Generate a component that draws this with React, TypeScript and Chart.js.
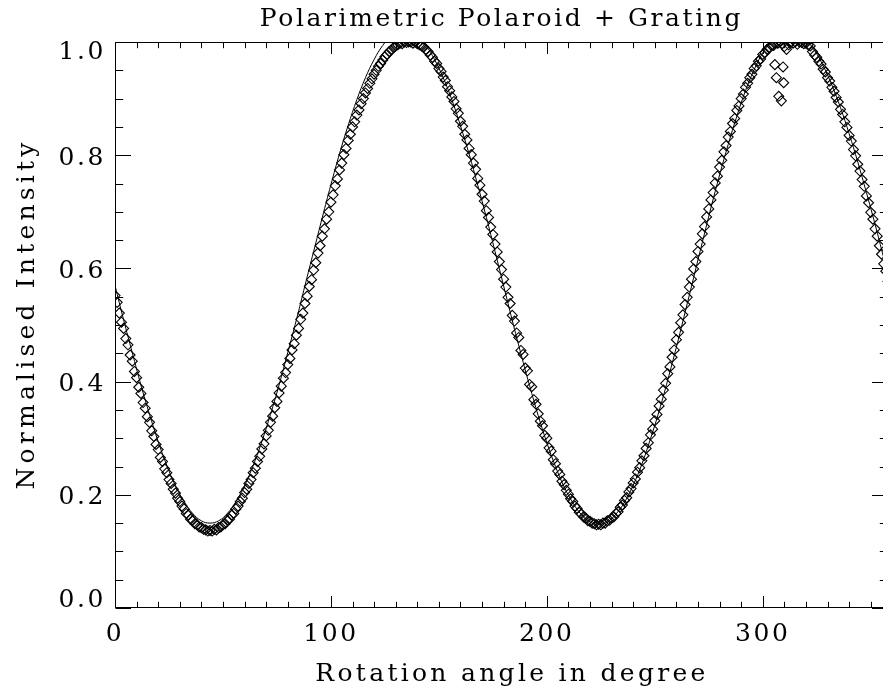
import React, { useEffect, useRef } from 'react';
import { Chart, registerables } from 'chart.js';
Chart.register(...registerables);

const FONT_FAMILY = '"DejaVu Serif", serif';
const TITLE = 'Polarimetric Polaroid + Grating';
const X_TITLE = 'Rotation angle in degree';
const Y_TITLE = 'Normalised Intensity';

// measured intensity, one sample per degree starting at 0 deg
const ANGLE_START = 0;
const ANGLE_STEP = 1;
const intensity = [
  0.552, 0.540, 0.521, 0.505, 0.494, 0.476, 0.465, 0.447, 0.436, 0.418, // 0
  0.407, 0.390, 0.379, 0.363, 0.353, 0.338, 0.328, 0.313, 0.303, 0.289, // 10
  0.280, 0.266, 0.259, 0.246, 0.239, 0.227, 0.220, 0.210, 0.203, 0.194, // 20
  0.188, 0.180, 0.175, 0.167, 0.164, 0.157, 0.155, 0.149, 0.147, 0.143, // 30
  0.142, 0.139, 0.138, 0.136, 0.137, 0.136, 0.139, 0.138, 0.142, 0.143, // 40
  0.147, 0.149, 0.155, 0.157, 0.164, 0.167, 0.175, 0.180, 0.188, 0.194, // 50
  0.204, 0.210, 0.220, 0.227, 0.239, 0.247, 0.259, 0.268, 0.281, 0.290, // 60
  0.304, 0.314, 0.328, 0.339, 0.354, 0.365, 0.380, 0.392, 0.406, 0.416, // 70
  0.430, 0.441, 0.456, 0.467, 0.482, 0.494, 0.510, 0.521, 0.538, 0.551, // 80
  0.568, 0.580, 0.597, 0.610, 0.627, 0.640, 0.657, 0.670, 0.687, 0.700, // 90
  0.717, 0.730, 0.746, 0.758, 0.774, 0.786, 0.801, 0.812, 0.826, 0.837, // 100
  0.850, 0.859, 0.871, 0.880, 0.891, 0.900, 0.910, 0.918, 0.927, 0.935, // 110
  0.943, 0.950, 0.957, 0.962, 0.968, 0.974, 0.978, 0.983, 0.986, 0.990, // 120
  0.993, 0.995, 0.998, 0.997, 1.000, 0.999, 1.000, 1.000, 0.998, 1.000, // 130
  0.997, 0.995, 0.993, 0.991, 0.986, 0.983, 0.977, 0.973, 0.966, 0.962, // 140
  0.953, 0.948, 0.938, 0.932, 0.921, 0.914, 0.903, 0.895, 0.882, 0.874, // 150
  0.860, 0.851, 0.837, 0.827, 0.812, 0.801, 0.786, 0.775, 0.759, 0.747, // 160
  0.731, 0.719, 0.702, 0.690, 0.673, 0.660, 0.643, 0.629, 0.612, 0.598, // 170
  0.581, 0.567, 0.549, 0.538, 0.517, 0.507, 0.486, 0.478, 0.455, 0.448, // 180
  0.424, 0.419, 0.395, 0.391, 0.368, 0.360, 0.343, 0.330, 0.322, 0.305, // 190
  0.300, 0.283, 0.277, 0.262, 0.255, 0.242, 0.236, 0.224, 0.218, 0.208, // 200
  0.201, 0.193, 0.188, 0.180, 0.176, 0.169, 0.166, 0.161, 0.159, 0.154, // 210
  0.153, 0.150, 0.149, 0.147, 0.148, 0.147, 0.150, 0.150, 0.154, 0.155, // 220
  0.159, 0.161, 0.167, 0.170, 0.178, 0.182, 0.190, 0.195, 0.205, 0.211, // 230
  0.221, 0.228, 0.240, 0.248, 0.260, 0.269, 0.282, 0.292, 0.306, 0.316, // 240
  0.331, 0.342, 0.357, 0.369, 0.385, 0.397, 0.414, 0.426, 0.443, 0.456, // 250
  0.474, 0.487, 0.504, 0.518, 0.536, 0.549, 0.567, 0.581, 0.599, 0.612, // 260
  0.630, 0.643, 0.661, 0.674, 0.691, 0.705, 0.721, 0.734, 0.751, 0.763, // 270
  0.779, 0.791, 0.806, 0.817, 0.832, 0.842, 0.856, 0.865, 0.879, 0.887, // 280
  0.900, 0.908, 0.920, 0.927, 0.937, 0.943, 0.953, 0.958, 0.966, 0.970, // 290
  0.978, 0.981, 0.987, 0.989, 0.994, 0.994, 0.998, 0.998, 1.000, 0.997, // 300
  0.992, 0.987, 0.995, 1.000, 0.998, 1.000, 0.996, 1.000, 0.999, 0.997, // 310
  0.998, 0.995, 0.993, 0.983, 0.977, 0.973, 0.966, 0.961, 0.952, 0.947, // 320
  0.937, 0.931, 0.920, 0.913, 0.902, 0.894, 0.881, 0.872, 0.859, 0.849, // 330
  0.835, 0.825, 0.810, 0.799, 0.784, 0.772, 0.757, 0.745, 0.728, 0.716, // 340
  0.699, 0.687, 0.670, 0.657, 0.640, 0.625, 0.608, 0.595, 0.577,        // 350
];

// stray low readings near the second maximum
const outlierAngle = [305.6, 306.3, 307.4, 308.6, 309.4, 309.7];
const outlierIntensity = [0.960, 0.937, 0.904, 0.896, 0.956, 0.928];

// fitted curve
const fitAngle = [
  0, 4, 8, 12, 16, 20, 24, 28, 32, 36, 40, 44, 48, 52, 56, 60, 64, 68, 72, 76,
  80, 84, 88, 92, 96, 100, 104, 108, 112, 116, 120, 124, 128, 132, 136, 140, 144, 148, 152, 156,
  160, 164, 168, 172, 176, 180, 184, 188, 192, 196, 200, 204, 208, 212, 216, 220, 224, 228, 232, 236,
  240, 244, 248, 252, 256, 260, 264, 268, 272, 276, 280, 284, 288, 292, 296, 300, 304, 308, 312, 316,
  320, 324, 328, 332, 336, 340, 344, 348, 352, 356, 358,
];
const fitIntensity = [
  0.570, 0.509, 0.451, 0.394, 0.342, 0.294, 0.252, 0.216, 0.188, 0.167, 0.154, 0.150, 0.154, 0.167, 0.188, 0.216, 0.252, 0.294, 0.342, 0.394,
  0.451, 0.509, 0.570, 0.630, 0.690, 0.748, 0.803, 0.853, 0.898, 0.937, 0.969, 0.994, 1.011, 1.019, 1.019, 1.010, 0.994, 0.969, 0.937, 0.898,
  0.852, 0.802, 0.747, 0.690, 0.630, 0.569, 0.508, 0.449, 0.393, 0.340, 0.292, 0.250, 0.214, 0.186, 0.165, 0.152, 0.148, 0.152, 0.166, 0.187,
  0.217, 0.254, 0.299, 0.348, 0.403, 0.461, 0.522, 0.584, 0.646, 0.707, 0.765, 0.819, 0.869, 0.914, 0.951, 0.981, 1.002, 1.016, 1.020, 1.016,
  1.004, 0.985, 0.958, 0.924, 0.884, 0.838, 0.788, 0.734, 0.678, 0.619, 0.590,
];

const X_MIN = 0;
const X_MAX = 358;
const Y_MIN = 0;
const Y_MAX = 1.0;
const X_MAJOR = [0, 100, 200, 300];
const X_MINOR = [10, 20, 30, 40, 50, 60, 70, 80, 90, 110, 120, 130, 140, 150, 160, 170, 180, 190,
  210, 220, 230, 240, 250, 260, 270, 280, 290, 310, 320, 330, 340, 350];
const Y_MAJOR = [0, 0.2, 0.4, 0.6, 0.8, 1.0];
const Y_MINOR = [0.05, 0.1, 0.15, 0.25, 0.3, 0.35, 0.45, 0.5, 0.55, 0.65, 0.7, 0.75, 0.85, 0.9, 0.95];

const CANVAS_W = 1003;
const CANVAS_H = 692;
const FONT_SIZE = 25;
const LETTER_SPACING = '2.6px';
const FONT_CSS = `normal ${FONT_SIZE}px ${FONT_FAMILY}`;

const font = { family: FONT_FAMILY, size: FONT_SIZE, weight: 'normal' as const, lineHeight: 1.2 };

const idlAxes = {
  id: 'idlAxes',
  beforeDraw(chart: any) {
    chart.ctx.letterSpacing = LETTER_SPACING;
  },
  afterDraw(chart: any) {
    const { ctx, chartArea: a, scales } = chart;
    const xs = scales.x;
    const ys = scales.y;
    const L = Math.round(a.left) + 0.5;
    const R = Math.round(a.right) - 0.5;
    const T = Math.round(a.top) + 0.5;
    const B = Math.round(a.bottom) - 0.5;
    ctx.save();
    ctx.strokeStyle = '#000';
    ctx.lineWidth = 1;
    ctx.beginPath();
    ctx.rect(L, T, R - L, B - T);
    const xt = (vals: number[], len: number) => {
      for (const v of vals) {
        const px = Math.round(xs.getPixelForValue(v)) + 0.5;
        ctx.moveTo(px, B); ctx.lineTo(px, B - len);
        ctx.moveTo(px, T); ctx.lineTo(px, T + len);
      }
    };
    const yt = (vals: number[], len: number) => {
      for (const v of vals) {
        const py = Math.round(ys.getPixelForValue(v)) + 0.5;
        ctx.moveTo(L, py); ctx.lineTo(L + len, py);
        ctx.moveTo(R, py); ctx.lineTo(R - len, py);
      }
    };
    xt(X_MAJOR, 11.5);
    xt(X_MINOR, 5.7);
    yt(Y_MAJOR, 15.5);
    yt(Y_MINOR, 7.7);
    ctx.stroke();

    ctx.fillStyle = '#000';
    ctx.font = FONT_CSS;

    // y tick labels (end labels kept inside the axis span)
    ctx.letterSpacing = LETTER_SPACING;
    ctx.textAlign = 'right';
    ctx.textBaseline = 'middle';
    for (const v of Y_MAJOR) {
      let py = ys.getPixelForValue(v) + 3;
      if (v === Y_MAX) py += 7;
      if (v === Y_MIN) py -= 11;
      ctx.fillText(v.toFixed(1), a.left - 9, py);
    }

    // x axis title
    ctx.letterSpacing = '3.3px';
    ctx.textAlign = 'center';
    ctx.textBaseline = 'middle';
    ctx.fillText(X_TITLE, 512, 674);

    // y axis title, rotated
    ctx.translate(27, 314);
    ctx.rotate(-Math.PI / 2);
    ctx.letterSpacing = '4.2px';
    ctx.fillText(Y_TITLE, 0, 0);
    ctx.restore();
  },
};

export default function App() {
  const ref = useRef<HTMLCanvasElement>(null);
  useEffect(() => {
    const measured = intensity.map((v, i) => ({ x: ANGLE_START + i * ANGLE_STEP, y: v }));
    const outliers = outlierAngle.map((a, i) => ({ x: a, y: outlierIntensity[i] }));
    const fit = fitAngle.map((a, i) => ({ x: a, y: fitIntensity[i] }));
    const pointStyle = {
      pointStyle: 'rectRot' as const,
      pointRadius: 5,
      pointBorderWidth: 1.1,
      borderColor: '#000',
      pointBorderColor: '#000',
      backgroundColor: 'rgba(0,0,0,0)',
      pointBackgroundColor: 'rgba(0,0,0,0)',
      showLine: false,
      clip: 0,
    };
    const chart = new Chart(ref.current as HTMLCanvasElement, {
      type: 'scatter',
      data: {
        datasets: [
          { label: 'data', data: measured, ...pointStyle },
          { label: 'outliers', data: outliers, ...pointStyle },
          {
            label: 'fit',
            data: fit,
            showLine: true,
            pointRadius: 0,
            borderColor: '#000',
            borderWidth: 1,
            tension: 0.4,
            clip: 0,
          },
        ],
      },
      options: {
        responsive: false,
        animation: false,
        devicePixelRatio: 1,
        layout: { padding: 0 },
        plugins: {
          legend: { display: false },
          tooltip: { enabled: false },
          title: {
            display: true,
            text: TITLE,
            color: '#000',
            font,
            padding: { top: 4, bottom: 8 },
          },
        },
        scales: {
          x: {
            type: 'linear',
            position: 'bottom',
            min: X_MIN,
            max: X_MAX,
            grid: { display: false, drawTicks: false },
            border: { display: false },
            afterBuildTicks: (s: any) => { s.ticks = X_MAJOR.map((v) => ({ value: v })); },
            afterFit: (s: any) => { s.height = 84; },
            ticks: {
              color: '#000',
              font,
              padding: 11,
              maxRotation: 0,
              autoSkip: false,
              callback: (v: any) => String(v),
            },
            title: { display: false },
          },
          y: {
            type: 'linear',
            position: 'left',
            min: Y_MIN,
            max: Y_MAX,
            grid: { display: false, drawTicks: false },
            border: { display: false },
            ticks: { display: false },
            afterFit: (s: any) => { s.width = 115; },
            title: { display: false },
          },
          y2: {
            type: 'linear',
            position: 'right',
            min: Y_MIN,
            max: Y_MAX,
            grid: { display: false, drawTicks: false },
            border: { display: false },
            ticks: { display: false },
            afterFit: (s: any) => { s.width = CANVAS_W - 888; },
          },
        },
      },
      plugins: [idlAxes],
    } as any);
    return () => chart.destroy();
  }, []);
  return (
    <div style={{ position: 'fixed', left: 0, top: 0, width: 883, height: 692, overflow: 'hidden', background: '#fff' }}>
      <canvas ref={ref} width={CANVAS_W} height={CANVAS_H} style={{ display: 'block', width: CANVAS_W, height: CANVAS_H }} />
    </div>
  );
}
